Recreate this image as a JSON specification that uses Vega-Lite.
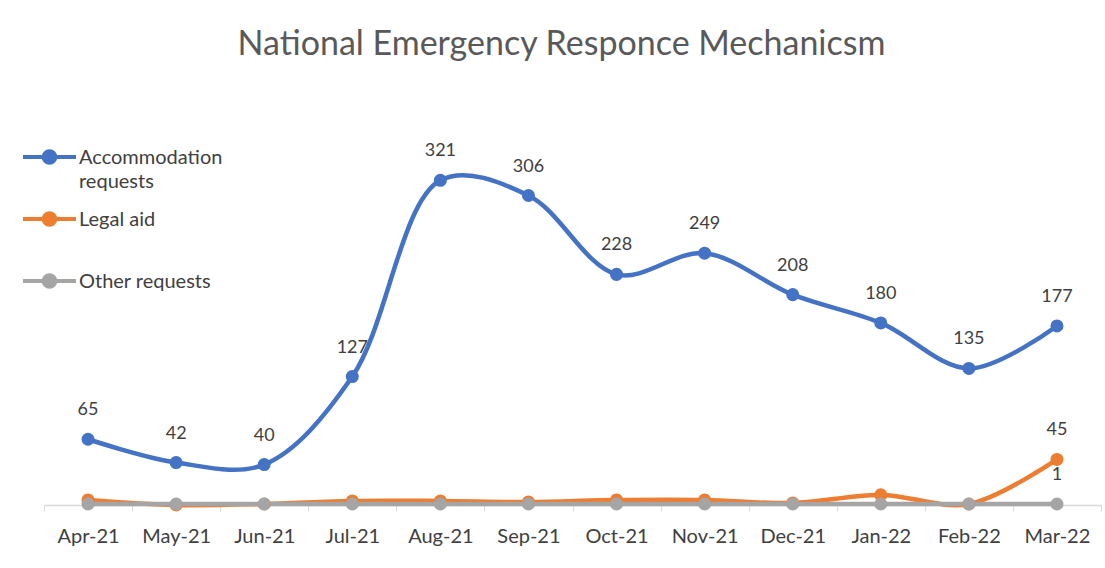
{
  "$schema": "https://vega.github.io/schema/vega-lite/v6.json",
  "width": 1057,
  "height": 354,
  "autosize": "none",
  "padding": {"left": 44, "top": 151, "right": 4, "bottom": 63},
  "background": "white",
  "config": {
    "view": {"stroke": null},
    "style": {"guide-label": {"lineHeight": 24, "dy": 7}}
  },
  "title": {
    "text": "National Emergency Responce Mechanicsm",
    "fontSize": 34,
    "font": "Lato",
    "fontWeight": "normal",
    "color": "#595959",
    "anchor": "middle",
    "frame": "group",
    "dx": -11,
    "offset": 68
  },
  "data": {
    "values": [
      {"month": "Apr-21", "series": "Accommodation requests", "value": 65},
      {"month": "May-21", "series": "Accommodation requests", "value": 42},
      {"month": "Jun-21", "series": "Accommodation requests", "value": 40},
      {"month": "Jul-21", "series": "Accommodation requests", "value": 127},
      {"month": "Aug-21", "series": "Accommodation requests", "value": 321},
      {"month": "Sep-21", "series": "Accommodation requests", "value": 306},
      {"month": "Oct-21", "series": "Accommodation requests", "value": 228},
      {"month": "Nov-21", "series": "Accommodation requests", "value": 249},
      {"month": "Dec-21", "series": "Accommodation requests", "value": 208},
      {"month": "Jan-22", "series": "Accommodation requests", "value": 180},
      {"month": "Feb-22", "series": "Accommodation requests", "value": 135},
      {"month": "Mar-22", "series": "Accommodation requests", "value": 177},
      {"month": "Apr-21", "series": "Legal aid", "value": 5},
      {"month": "May-21", "series": "Legal aid", "value": 0},
      {"month": "Jun-21", "series": "Legal aid", "value": 1},
      {"month": "Jul-21", "series": "Legal aid", "value": 4},
      {"month": "Aug-21", "series": "Legal aid", "value": 4},
      {"month": "Sep-21", "series": "Legal aid", "value": 3},
      {"month": "Oct-21", "series": "Legal aid", "value": 5},
      {"month": "Nov-21", "series": "Legal aid", "value": 5},
      {"month": "Dec-21", "series": "Legal aid", "value": 2},
      {"month": "Jan-22", "series": "Legal aid", "value": 10},
      {"month": "Feb-22", "series": "Legal aid", "value": 1},
      {"month": "Mar-22", "series": "Legal aid", "value": 45},
      {"month": "Apr-21", "series": "Other requests", "value": 1},
      {"month": "May-21", "series": "Other requests", "value": 1},
      {"month": "Jun-21", "series": "Other requests", "value": 1},
      {"month": "Jul-21", "series": "Other requests", "value": 1},
      {"month": "Aug-21", "series": "Other requests", "value": 1},
      {"month": "Sep-21", "series": "Other requests", "value": 1},
      {"month": "Oct-21", "series": "Other requests", "value": 1},
      {"month": "Nov-21", "series": "Other requests", "value": 1},
      {"month": "Dec-21", "series": "Other requests", "value": 1},
      {"month": "Jan-22", "series": "Other requests", "value": 1},
      {"month": "Feb-22", "series": "Other requests", "value": 1},
      {"month": "Mar-22", "series": "Other requests", "value": 1}
    ]
  },
  "encoding": {
    "x": {
      "field": "month",
      "type": "ordinal",
      "sort": null,
      "scale": {"paddingInner": 0, "paddingOuter": 0},
      "axis": {
        "title": null,
        "labelAngle": 0,
        "labelFont": "Lato",
        "labelFontSize": 20,
        "labelColor": "#404040",
        "labelPadding": 8,
        "domainColor": "#d9d9d9",
        "domainWidth": 1.5,
        "tickColor": "#d9d9d9",
        "tickSize": 6,
        "tickBand": "extent",
        "grid": false
      }
    },
    "y": {
      "field": "value",
      "type": "quantitative",
      "scale": {"domain": [0, 350], "nice": false},
      "axis": null
    },
    "color": {
      "field": "series",
      "type": "nominal",
      "scale": {
        "domain": ["Accommodation requests", "Legal aid", "Other requests"],
        "range": ["#4472C4", "#ED7D31", "#A5A5A5"]
      },
      "legend": {
        "title": null,
        "orient": "none",
        "legendX": -23,
        "legendY": -21,
        "labelFont": "Lato",
        "labelFontSize": 20,
        "labelColor": "#404040",
        "labelExpr": "datum.label == 'Accommodation requests' ? ['Accommodation', 'requests'] : [datum.label, '']",
        "labelBaseline": "alphabetic",
        "labelOffset": 1,
        "symbolType": "M-1,0H1M-0.22,0A0.22,0.22 0 1,1 0.22,0A0.22,0.22 0 1,1 -0.22,0Z",
        "symbolSize": 2809,
        "symbolStrokeWidth": 4,
        "clipHeight": 54,
        "rowPadding": 0,
        "labelLimit": 300
      }
    }
  },
  "layer": [
    {
      "mark": {
        "type": "line",
        "interpolate": "catmull-rom",
        "strokeWidth": 4.5,
        "point": {"filled": true, "size": 170}
      }
    },
    {
      "transform": [
        {"filter": "datum.series == 'Accommodation requests' || datum.month == 'Mar-22'"}
      ],
      "mark": {
        "type": "text",
        "dy": -29,
        "font": "Lato",
        "fontSize": 18,
        "color": "#404040"
      },
      "encoding": {
        "text": {"field": "value", "type": "quantitative"},
        "color": {"value": "#404040"}
      }
    }
  ]
}
